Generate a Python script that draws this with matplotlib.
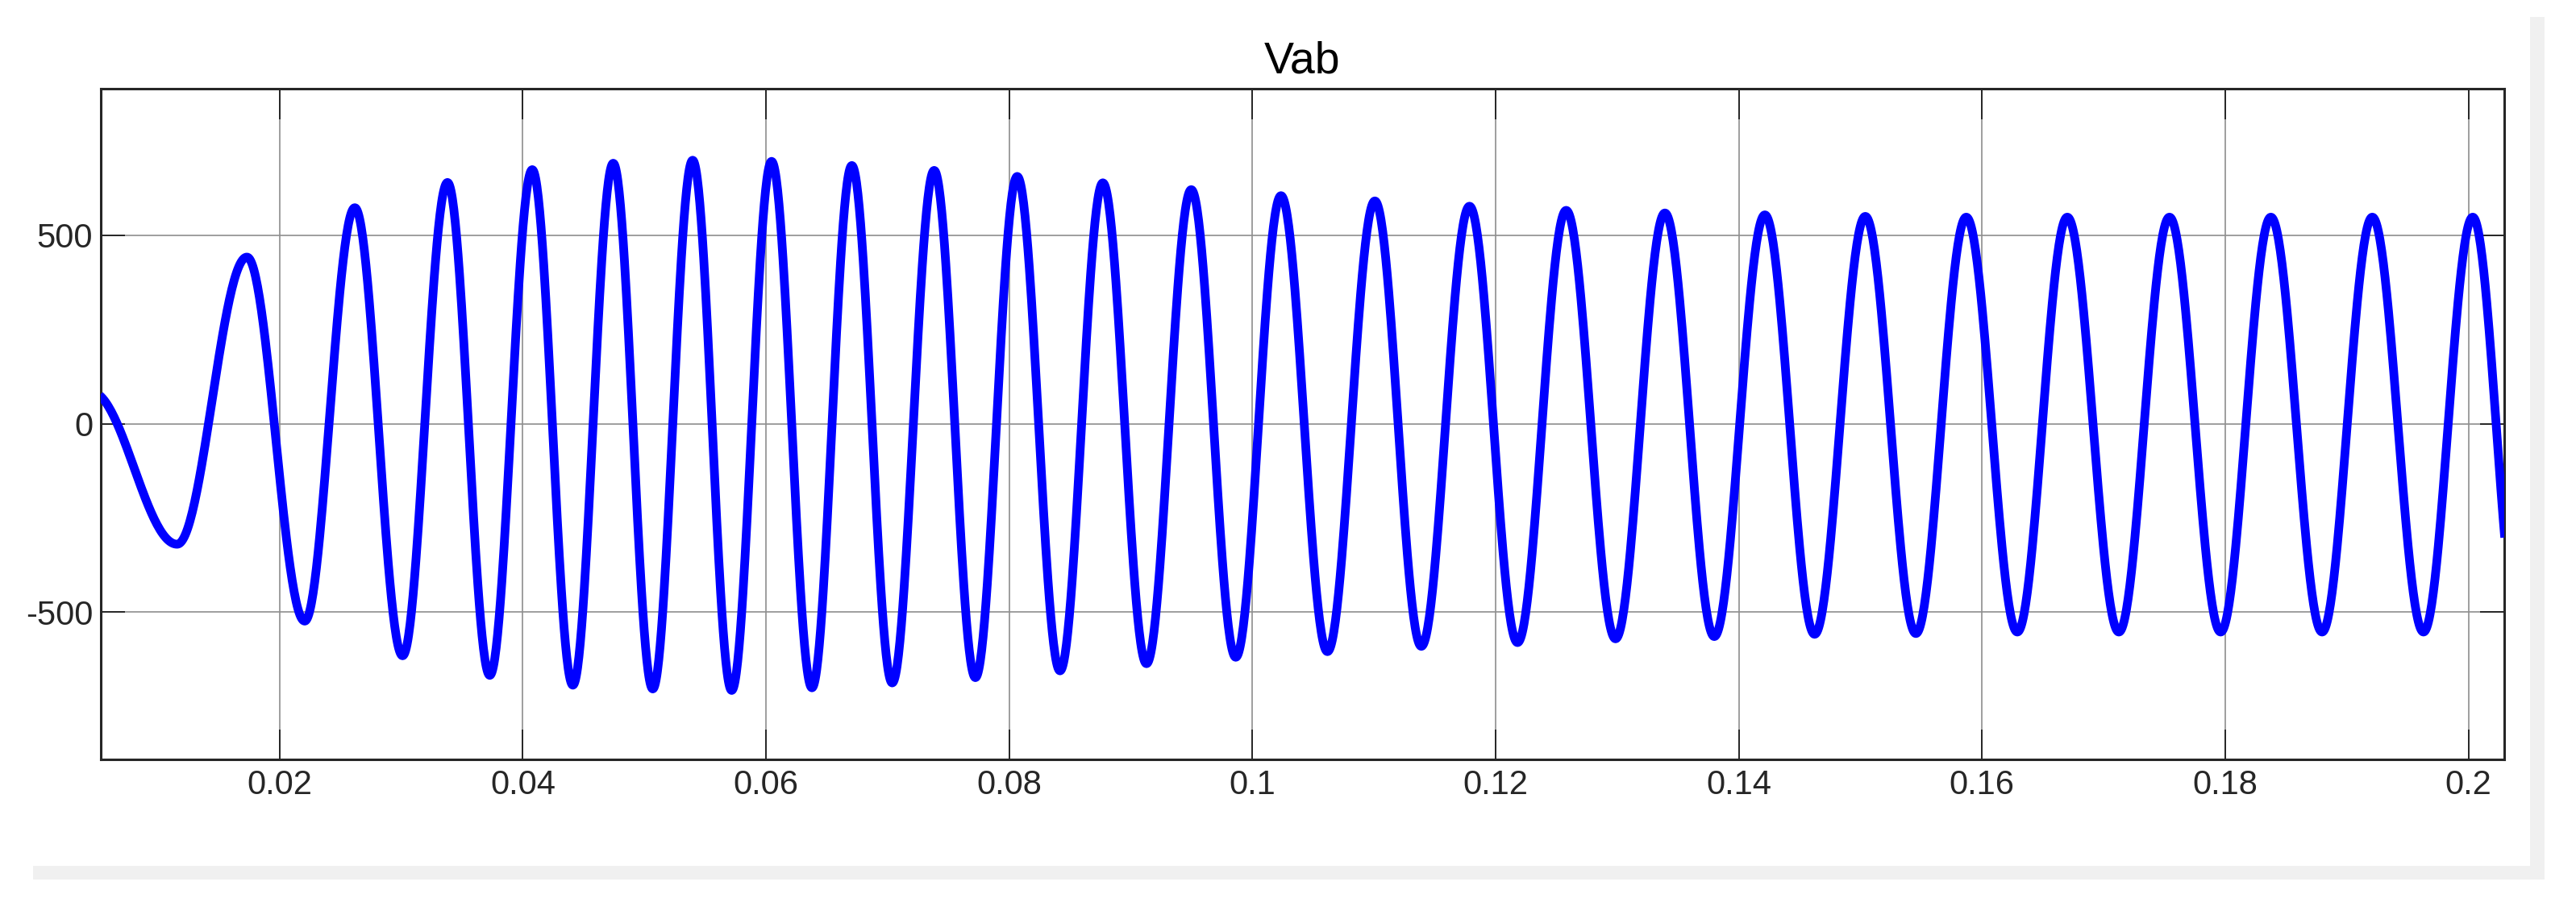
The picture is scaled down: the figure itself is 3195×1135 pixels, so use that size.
import numpy as np
import matplotlib
matplotlib.use("Agg")
import matplotlib.pyplot as plt
from matplotlib import font_manager
from matplotlib.patches import Rectangle

# ---------------- data ----------------
title = "Vab"

# local maxima of the waveform: time [s], value
peak_t = [0.01732, 0.02619, 0.03381, 0.04078, 0.04744, 0.05397, 0.06046,
          0.06706, 0.07383, 0.08066, 0.08770, 0.09497, 0.10235, 0.11007,
          0.11785, 0.12580, 0.13392, 0.14214, 0.15040, 0.15870, 0.16701,
          0.17541, 0.18375, 0.19209, 0.20035]
peak_v = [442, 573, 640, 674, 691, 699, 696,
          685, 672, 656, 639, 621, 605, 591,
          577, 566, 559, 554, 550, 548, 548,
          548, 548, 548, 548]

# local minima of the waveform: time [s], value
trough_t = [0.01158, 0.02207, 0.03012, 0.03729, 0.04412, 0.05069, 0.05718,
            0.06378, 0.07038, 0.07722, 0.08418, 0.09129, 0.09863, 0.10617,
            0.11389, 0.12180, 0.12986, 0.13798, 0.14623, 0.15456, 0.16290,
            0.17125, 0.17962, 0.18796, 0.19630, 0.20420]
trough_v = [-320, -524, -616, -668, -694, -704, -708,
            -701, -688, -674, -656, -637, -620, -605,
            -591, -581, -571, -565, -559, -557, -553,
            -553, -553, -553, -553, -553]

# maximum just before the visible window (curve enters at ~70 and falls)
lead_t = [0.0045]
lead_v = [85]

x_limits = (0.0053, 0.20294)
y_limits = (-890, 890)
xticks = [0.02, 0.04, 0.06, 0.08, 0.10, 0.12, 0.14, 0.16, 0.18, 0.20]
xticklabels = ["0.02", "0.04", "0.06", "0.08", "0.1", "0.12", "0.14",
               "0.16", "0.18", "0.2"]
yticks = [-500, 0, 500]
yticklabels = ["-500", "0", "500"]

# ---------------- waveform between extrema (sinusoidal half-cycles) ----------------
ext_t = np.array(lead_t + peak_t + trough_t)
ext_v = np.array(lead_v + peak_v + trough_v, dtype=float)
order = np.argsort(ext_t)
ext_t, ext_v = ext_t[order], ext_v[order]

ts, vs = [], []
for i in range(len(ext_t) - 1):
    t0, t1 = ext_t[i], ext_t[i + 1]
    v0, v1 = ext_v[i], ext_v[i + 1]
    tt = np.linspace(t0, t1, 60, endpoint=False)
    ph = (tt - t0) / (t1 - t0)
    ts.append(tt)
    vs.append((v0 + v1) / 2 + (v0 - v1) / 2 * np.cos(np.pi * ph))
ts.append([ext_t[-1]])
vs.append([ext_v[-1]])
t = np.concatenate(ts)
v = np.concatenate(vs)

# ---------------- fonts ----------------
names = {f.name for f in font_manager.fontManager.ttflist}
fam = [n for n in ["Liberation Sans Narrow", "Liberation Sans", "DejaVu Sans"] if n in names]
plt.rcParams["font.family"] = fam

# ---------------- figure ----------------
W, H = 3195, 1135
fig = plt.figure(figsize=(W / 100, H / 100), dpi=100, facecolor="white")

# light grey drop-shadow frame behind the white panel
fig.patches.append(Rectangle((41 / W, 1 - 1091 / H), (3156 - 41) / W, (1091 - 21) / H,
                             transform=fig.transFigure, facecolor="#f0f0f0",
                             edgecolor="none", zorder=-2))
fig.patches.append(Rectangle((0, 1 - 1074 / H), 3138 / W, 1074 / H,
                             transform=fig.transFigure, facecolor="white",
                             edgecolor="none", zorder=-1))

ax = fig.add_axes([125 / W, 1 - 941.5 / H, (3106 - 125) / W, (941.5 - 109.5) / H])
ax.set_zorder(1)
ax.set_facecolor("white")

ax.plot(t, v, color="#0000ff", linewidth=7.8, solid_joinstyle="round",
        solid_capstyle="butt", zorder=3)

ax.set_xlim(*x_limits)
ax.set_ylim(*y_limits)
ax.set_xticks(xticks)
ax.set_xticklabels(xticklabels)
ax.set_yticks(yticks)
ax.set_yticklabels(yticklabels)

ax.set_axisbelow("line")
ax.grid(True, color="#8e8e8e", linewidth=1.2)

ax.tick_params(axis="x", direction="in", length=27, width=1.4, colors="#262626",
               top=True, bottom=True, labelsize=30, pad=9)
ax.tick_params(axis="y", direction="in", length=21.5, width=1.4, colors="#262626",
               left=True, right=True, labelsize=30, pad=7)
for s in ax.spines.values():
    s.set_color("#262626")
    s.set_linewidth(2.2)

ax.set_title(title, fontsize=40, pad=14, color="black")

fig.savefig("out.png", dpi=100, facecolor="white")
